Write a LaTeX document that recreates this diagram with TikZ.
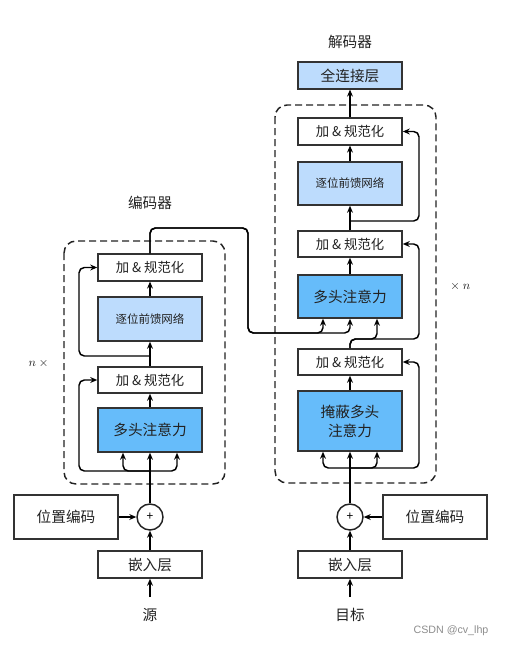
\documentclass[tikz,border=0pt]{standalone}
\usepackage{fontspec}
\setmainfont{Noto Sans CJK SC}
\newfontfamily\wmfont{Liberation Sans}
\usetikzlibrary{arrows.meta}
\definecolor{mhablue}{HTML}{66BCFA}
\definecolor{ffnblue}{HTML}{BDDCFD}
\definecolor{boxline}{HTML}{333333}
\definecolor{txt}{HTML}{222222}
\tikzset{
  arr/.style={-{Stealth[length=5.2pt,width=4.4pt]}, line width=1.1pt, rounded corners=4pt},
  box/.style={draw=boxline, line width=1.2pt, minimum width=78pt, inner sep=1pt, text=txt,
              font=\fontsize{11}{14}\selectfont, align=center},
  anbox/.style={box, fill=white, minimum height=20pt, font=\fontsize{10}{12}\selectfont},
  ffnbox/.style={box, fill=ffnblue, minimum height=32.5pt, font=\fontsize{8.6}{10}\selectfont},
  fcbox/.style={box, fill=ffnblue, minimum height=20pt},
  mhabox/.style={box, fill=mhablue, minimum height=33pt},
  plainbox/.style={box, fill=white},
  plus/.style={draw=txt, line width=1.1pt, circle, minimum size=19.5pt, inner sep=0pt, font=\fontsize{9}{9}\selectfont},
  lbl/.style={text=txt, font=\fontsize{11}{13}\selectfont},
  frame/.style={draw=txt, line width=1.1pt, dash pattern=on 5.25pt off 3pt, rounded corners=9pt},
}
\begin{document}
\begin{tikzpicture}[x=0.75pt,y=-0.75pt]
\useasboundingbox (0,0) rectangle (505,646);

% frames
\draw[frame] (64,241) rectangle (225,484);
\draw[frame] (275,105) rectangle (436,483);

% encoder nodes
\node[lbl] (encLabel) at (150,203) {编码器};
\node[anbox] (eAN2) at (150,267.5) {加 \& 规范化};
\node[ffnbox, minimum height=33pt] (eFFN) at (150,319) {逐位前馈网络};
\node[anbox, minimum height=19.5pt] (eAN1) at (150,380) {加 \& 规范化};
\node[mhabox] (eMHA) at (150,430) {多头注意力};
\node[plus] (eplus) at (150,517) {+};
\node[plainbox, minimum height=33pt] (ePE) at (66,517) {位置编码};
\node[plainbox, minimum height=20.25pt] (eEmb) at (150,564.5) {嵌入层};
\node[lbl] (src) at (150,615) {源};
\node[text=txt, font=\fontsize{9}{11}\selectfont] (nx) at (40,363) {$n\times{}$};

% decoder nodes
\node[lbl] (decLabel) at (350,42) {解码器};
\node[fcbox] (dFC) at (350,75.5) {全连接层};
\node[anbox] (dAN3) at (350,131.5) {加 \& 规范化};
\node[ffnbox, minimum height=32.25pt] (dFFN) at (350,183.5) {逐位前馈网络};
\node[anbox, minimum height=19.5pt] (dAN2) at (350,244) {加 \& 规范化};
\node[mhabox, minimum height=32.25pt] (dMHA) at (350,296.5) {多头注意力};
\node[anbox, minimum height=19.5pt] (dAN1) at (350,362) {加 \& 规范化};
\node[mhabox, minimum height=45pt, font=\fontsize{11}{14.3}\selectfont] (dMMHA) at (350,421) {掩蔽多头\\注意力};
\node[plus] (dplus) at (350,517) {+};
\node[plainbox, minimum height=33pt] (dPE) at (435,517) {位置编码};
\node[plainbox, minimum height=20.25pt] (dEmb) at (350,564.5) {嵌入层};
\node[lbl] (tgt) at (350,615) {目标};
\node[text=txt, font=\fontsize{9}{11}\selectfont] (xn) at (459,286) {${}\times n$};

\node[text=black!45, font=\wmfont\fontsize{8}{10}\selectfont] (wm) at (451,631) {CSDN @cv\_lhp};

% coordinates
\coordinate (srcTop) at (150,597);
\coordinate (tgtTop) at (350,597);
\coordinate (eSplit) at (150,471);
\coordinate (eSplit2) at (150,356);
\coordinate (eResX) at (79,0);
\coordinate (eCorner) at (248,228);
\coordinate (eOut) at (248,333);
\coordinate (dSplit) at (350,468);
\coordinate (dSplit2) at (350,339);
\coordinate (dSplit3) at (350,221);
\coordinate (dResX) at (419,0);

% encoder connectors
\draw[arr] (srcTop) -- (eEmb.south);
\draw[arr] (eEmb.north) -- (eplus.south);
\draw[arr] (ePE.east) -- (eplus.west);
\draw[arr] (eplus.north) -- (eMHA.south);
\draw[arr] (eSplit) -| ([xshift=-20.25pt]eMHA.south);
\draw[arr] (eSplit) -| ([xshift=20.25pt]eMHA.south);
\draw[arr] (eSplit) -| (eResX |- eAN1.west) -- (eAN1.west);
\draw[arr] (eMHA.north) -- (eAN1.south);
\draw[arr] (eAN1.north) -- (eFFN.south);
\draw[arr] (eSplit2) -| (eResX |- eAN2.west) -- (eAN2.west);
\draw[arr] (eFFN.north) -- (eAN2.south);
\draw[arr] (eAN2.north) |- (eCorner) -- (eOut) -| ([xshift=-20.25pt]dMHA.south);
\draw[arr] (eAN2.north) |- (eCorner) -- (eOut) -| (dMHA.south);

% decoder connectors
\draw[arr] (tgtTop) -- (dEmb.south);
\draw[arr] (dEmb.north) -- (dplus.south);
\draw[arr] (dPE.west) -- (dplus.east);
\draw[arr] (dplus.north) -- (dMMHA.south);
\draw[arr] (dSplit) -| ([xshift=-20.25pt]dMMHA.south);
\draw[arr] (dSplit) -| ([xshift=20.25pt]dMMHA.south);
\draw[arr] (dSplit) -| (dResX |- dAN1.east) -- (dAN1.east);
\draw[arr] (dMMHA.north) -- (dAN1.south);
\draw[arr] (dAN1.north) -- (dSplit2) -| ([xshift=20.25pt]dMHA.south);
\draw[arr] (dAN1.north) -- (dSplit2) -| (dResX |- dAN2.east) -- (dAN2.east);
\draw[arr] (dMHA.north) -- (dAN2.south);
\draw[arr] (dAN2.north) -- (dFFN.south);
\draw[arr] (dSplit3) -| (dResX |- dAN3.east) -- (dAN3.east);
\draw[arr] (dFFN.north) -- (dAN3.south);
\draw[arr] (dAN3.north) -- (dFC.south);
\end{tikzpicture}
\end{document}
